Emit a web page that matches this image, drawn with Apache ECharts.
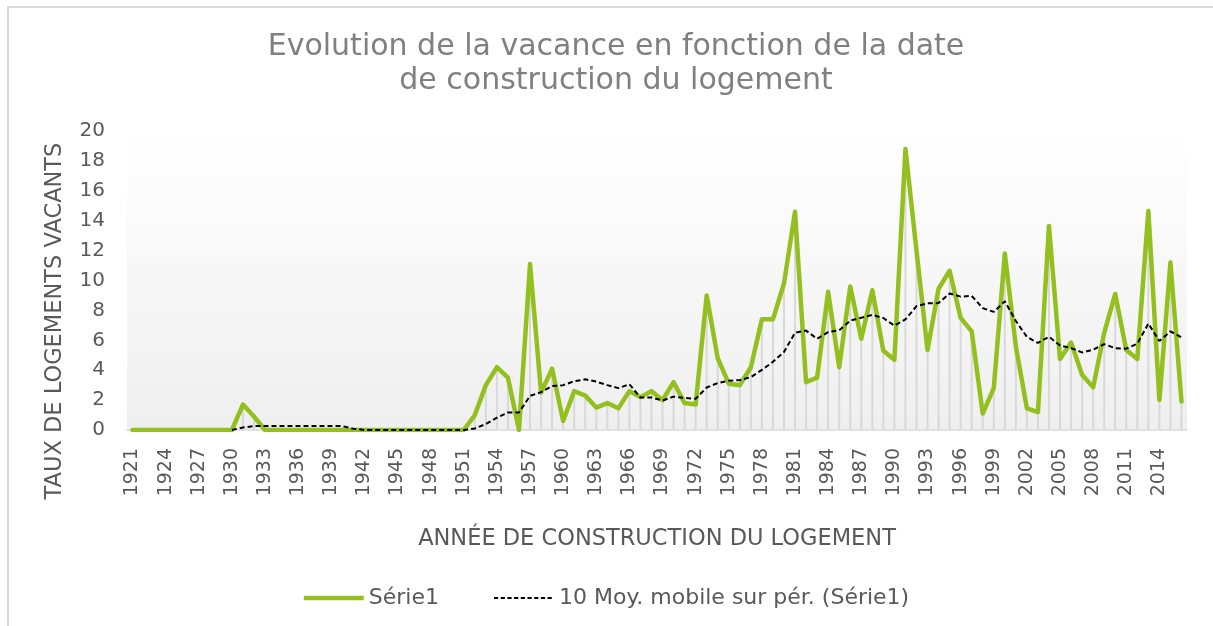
<!DOCTYPE html>
<html>
<head>
<meta charset="utf-8">
<script src="https://cdn.jsdelivr.net/npm/echarts@6/dist/echarts.min.js"></script>
<style>
html,body{margin:0;padding:0;background:#fff;}
#frame{position:absolute;left:7px;top:6px;width:1220px;height:640px;border-top:2px solid #d9d9d9;border-left:2px solid #d9d9d9;}
#chart{position:absolute;left:0;top:0;width:1213px;height:626px;}
</style>
</head>
<body>
<div id="frame"></div>
<div id="chart"></div>
<script>
const years = [];
for (let y = 1921; y <= 2016; y++) years.push(String(y));

const serie1 = [
  0, 0, 0, 0, 0, 0, 0, 0, 0, 0,            // 1921-1930
  1.7, 0.9, 0, 0, 0, 0, 0, 0, 0, 0,        // 1931-1940
  0, 0, 0, 0, 0, 0, 0, 0, 0, 0,            // 1941-1950
  0, 1.0, 3.0, 4.2, 3.5, 0, 11.1, 2.5, 4.1, 0.6, // 1951-1960
  2.6, 2.3, 1.5, 1.8, 1.45, 2.6, 2.2, 2.6, 2.0, 3.2, // 1961-1970
  1.8, 1.7, 9.0, 4.8, 3.1, 3.0, 4.2, 7.4, 7.4, 9.8, // 1971-1980
  14.6, 3.2, 3.5, 9.25, 4.2, 9.6, 6.1, 9.35, 5.3, 4.7, // 1981-1990
  18.8, 12.0, 5.35, 9.45, 10.65, 7.5, 6.6, 1.1, 2.8, 11.8, // 1991-2000
  5.6, 1.45, 1.2, 13.65, 4.75, 5.85, 3.7, 2.85, 6.5, 9.1, // 2001-2010
  5.35, 4.75, 14.65, 2.0, 11.2, 1.9          // 2011-2016
];

const moyMobile = [
  '-', '-', '-', '-', '-', '-', '-', '-', '-', 0,
  0.17, 0.26, 0.26, 0.26, 0.26, 0.26, 0.26, 0.26, 0.26, 0.26,
  0.09, 0, 0, 0, 0, 0, 0, 0, 0, 0,
  0, 0.1, 0.4, 0.82, 1.17, 1.17, 2.28, 2.53, 2.94, 3.0,
  3.26, 3.39, 3.24, 3.0, 2.8, 3.06, 2.17, 2.18, 1.97, 2.23,
  2.15, 2.09, 2.84, 3.14, 3.3, 3.34, 3.54, 4.02, 4.56, 5.22,
  6.5, 6.65, 6.1, 6.55, 6.66, 7.32, 7.51, 7.7, 7.49, 6.98,
  7.4, 8.28, 8.47, 8.49, 9.13, 8.92, 8.97, 8.15, 7.9, 8.61,
  7.29, 6.23, 5.82, 6.24, 5.65, 5.48, 5.19, 5.37, 5.74, 5.47,
  5.44, 5.77, 7.12, 5.95, 6.6, 6.2
];

const titleText = 'Evolution de la vacance en fonction de la date\nde construction du logement';
const yName = 'TAUX DE LOGEMENTS VACANTS';
const xName = 'ANNÉE DE CONSTRUCTION DU LOGEMENT';
const nameSerie = 'Série1';
const nameMoy = '10 Moy. mobile sur pér. (Série1)';

// legend icons (bounding box 0..60 x 0..14)
const iconSolid = 'path://M0,0M0,4.75H60V9.25H0ZM60,14';
let dashPath = 'path://M0,0';
for (let x = 0; x < 60; x += 6.7) dashPath += 'M' + x.toFixed(2) + ',6H' + (x + 4.2).toFixed(2) + 'V8H' + x.toFixed(2) + 'Z';
dashPath += 'M60,14';

const FONT = 'DejaVu Sans';
const chart = echarts.init(document.getElementById('chart'), null, {renderer: 'canvas'});
chart.setOption({
  backgroundColor: 'transparent',
  animation: false,
  title: {
    text: titleText,
    left: 611,
    top: 25,
    textAlign: 'center',
    textStyle: {fontFamily: FONT, fontSize: 30, fontWeight: 'normal', color: '#808080', lineHeight: 34}
  },
  legend: {
    data: [
      {name: nameSerie, icon: iconSolid, itemStyle: {color: '#93c01f'}},
      {name: nameMoy, icon: dashPath, itemStyle: {color: '#000000'}}
    ],
    left: 'center',
    top: 582,
    itemWidth: 60,
    itemHeight: 14,
    itemGap: 55,
    symbolKeepAspect: false,
    textStyle: {fontFamily: FONT, fontSize: 22, color: '#595959'}
  },
  graphic: [{
    type: 'text',
    x: 55,
    y: 321,
    rotation: Math.PI / 2,
    style: {text: yName, fontFamily: FONT, fontSize: 22.5, fill: '#595959', textAlign: 'center', textVerticalAlign: 'middle'}
  }],
  grid: {
    left: 127, right: 26, top: 131, bottom: 196,
    show: true, borderWidth: 0,
    backgroundColor: new echarts.graphic.LinearGradient(0, 0, 0, 1, [
      {offset: 0, color: '#ffffff'},
      {offset: 0.13, color: '#fdfdfd'},
      {offset: 1, color: '#efefef'}
    ])
  },
  xAxis: {
    type: 'category',
    data: years,
    boundaryGap: true,
    axisLine: {lineStyle: {color: '#d9d9d9', width: 1.5}},
    axisTick: {show: false},
    axisLabel: {interval: 2, rotate: 90, margin: 18, fontFamily: FONT, fontSize: 19, color: '#595959'},
    name: xName,
    nameLocation: 'middle',
    nameGap: 98,
    nameTextStyle: {fontFamily: FONT, fontSize: 22.5, color: '#595959'}
  },
  yAxis: {
    type: 'value',
    min: 0, max: 20, interval: 2,
    axisLine: {show: false},
    axisTick: {show: false},
    splitLine: {show: false},
    axisLabel: {margin: 22, fontFamily: FONT, fontSize: 20, color: '#595959'}
  },
  series: [
    {
      name: 'drop',
      type: 'bar',
      data: serie1,
      barWidth: 2,
      itemStyle: {color: '#d9d9d9'},
      z: 1,
      silent: true
    },
    {
      name: nameSerie,
      type: 'line',
      data: serie1,
      symbol: 'none',
      lineStyle: {color: '#93c01f', width: 4.5, cap: 'round', join: 'round'},
      itemStyle: {color: '#93c01f'},
      z: 3
    },
    {
      name: nameMoy,
      type: 'line',
      data: moyMobile,
      symbol: 'none',
      lineStyle: {color: '#000000', width: 2, type: [5, 3]},
      itemStyle: {color: '#000000'},
      z: 4
    }
  ]
});
</script>
</body>
</html>
